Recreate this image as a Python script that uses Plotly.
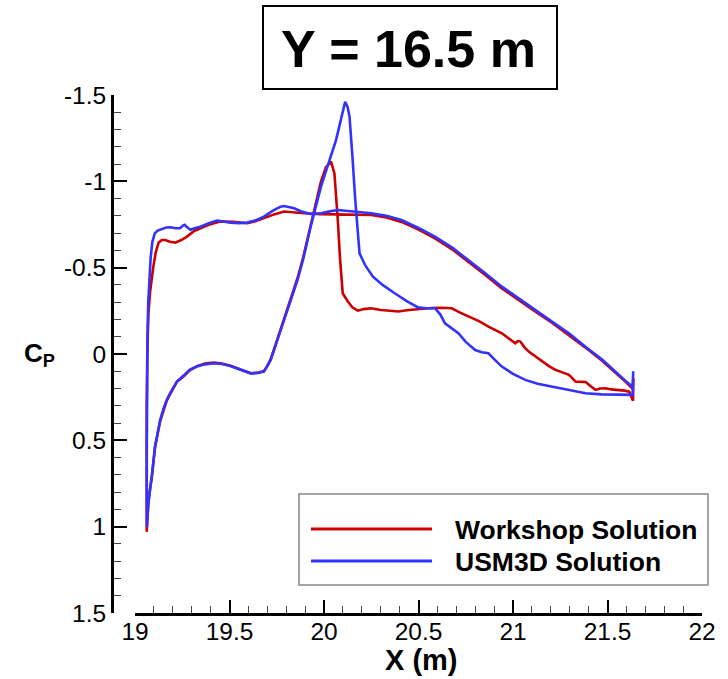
import numpy as np
import plotly.graph_objects as go

# ---------------- data ----------------
# USM3D Solution (blue) : upper branch from leading edge to trailing edge (last point = TE spike)
usm_upper_x = [19.063, 19.062, 19.063, 19.066, 19.070, 19.076, 19.083, 19.092, 19.105, 19.12,
               19.14, 19.165, 19.19, 19.215, 19.239, 19.255, 19.263, 19.275, 19.293, 19.32,
               19.346, 19.39, 19.434, 19.47, 19.505, 19.55, 19.594, 19.64, 19.682, 19.73,
               19.77, 19.789, 19.815, 19.842, 19.88, 19.93, 19.984, 20.03, 20.073, 20.12,
               20.161, 20.21, 20.25, 20.33, 20.41, 20.50, 20.587, 20.68, 20.764, 20.85,
               20.941, 21.03, 21.119, 21.21, 21.296, 21.38, 21.473, 21.55, 21.60, 21.633, 21.636]
usm_upper_cp = [1.0, 0.6, 0.2, -0.1, -0.3, -0.43, -0.56, -0.65, -0.70, -0.715,
                -0.725, -0.733, -0.734, -0.728, -0.728, -0.745, -0.748, -0.735, -0.72, -0.73,
                -0.737, -0.757, -0.773, -0.768, -0.761, -0.758, -0.761, -0.775, -0.796, -0.83,
                -0.853, -0.857, -0.852, -0.844, -0.825, -0.811, -0.815, -0.826, -0.834, -0.832,
                -0.825, -0.82, -0.815, -0.80, -0.776, -0.73, -0.68, -0.615, -0.545, -0.47,
                -0.39, -0.32, -0.255, -0.185, -0.12, -0.045, 0.034, 0.11, 0.16, 0.19, 0.10]
# USM3D Solution (blue) : lower branch from leading edge to trailing edge
usm_lower_x = [19.063, 19.066, 19.071, 19.08, 19.089, 19.106, 19.12, 19.133, 19.15, 19.168,
               19.186, 19.222, 19.257, 19.29, 19.328, 19.37, 19.416, 19.46, 19.505, 19.56,
               19.612, 19.65, 19.682, 19.70, 19.718, 19.75, 19.789, 19.82, 19.86, 19.89,
               19.93, 19.984, 20.03, 20.064, 20.09, 20.112, 20.125, 20.135, 20.15, 20.165,
               20.188, 20.22, 20.259, 20.31, 20.374, 20.44, 20.498, 20.54, 20.587, 20.615,
               20.64, 20.675, 20.711, 20.75, 20.8, 20.835, 20.87, 20.9, 20.941, 21.0,
               21.065, 21.13, 21.207, 21.3, 21.384, 21.47, 21.562, 21.633]
usm_lower_cp = [1.0, 0.95, 0.864, 0.78, 0.71, 0.536, 0.45, 0.382, 0.32, 0.266,
                0.227, 0.16, 0.125, 0.09, 0.073, 0.06, 0.054, 0.058, 0.069, 0.09,
                0.112, 0.11, 0.102, 0.07, 0.034, -0.07, -0.197, -0.30, -0.429, -0.55,
                -0.74, -0.969, -1.12, -1.24, -1.36, -1.461, -1.43, -1.374, -1.15, -0.9,
                -0.583, -0.51, -0.448, -0.40, -0.352, -0.305, -0.27, -0.265, -0.265, -0.23,
                -0.178, -0.15, -0.12, -0.07, -0.023, -0.01, -0.004, 0.03, 0.073, 0.115,
                0.15, 0.172, 0.189, 0.21, 0.227, 0.234, 0.237, 0.237]

# Workshop Solution (red) : upper branch
ws_upper_x = [19.062, 19.06, 19.062, 19.065, 19.071, 19.08, 19.09, 19.097, 19.11, 19.125,
              19.142, 19.16, 19.185, 19.213, 19.245, 19.275, 19.31, 19.346, 19.40, 19.45,
              19.52, 19.594, 19.64, 19.682, 19.74, 19.789, 19.84, 19.895, 19.98, 20.073,
              20.16, 20.25, 20.33, 20.41, 20.50, 20.587, 20.68, 20.764, 20.85, 20.941,
              21.03, 21.119, 21.21, 21.296, 21.38, 21.473, 21.55, 21.60, 21.632, 21.637]
ws_upper_cp = [1.03, 0.7, 0.3, 0.0, -0.238, -0.36, -0.45, -0.506, -0.59, -0.645,
               -0.66, -0.66, -0.65, -0.645, -0.66, -0.68, -0.71, -0.728, -0.752, -0.767,
               -0.765, -0.757, -0.77, -0.786, -0.81, -0.825, -0.822, -0.815, -0.81, -0.805,
               -0.806, -0.805, -0.79, -0.765, -0.72, -0.67, -0.605, -0.535, -0.46, -0.38,
               -0.31, -0.245, -0.178, -0.11, -0.04, 0.04, 0.115, 0.165, 0.20, 0.14]
# Workshop Solution (red) : lower branch
ws_lower_x = [19.062, 19.065, 19.07, 19.09, 19.106, 19.133, 19.168, 19.186, 19.222, 19.257,
              19.29, 19.328, 19.37, 19.416, 19.46, 19.505, 19.56, 19.612, 19.65, 19.682,
              19.70, 19.718, 19.75, 19.789, 19.82, 19.86, 19.89, 19.93, 19.984, 20.01,
              20.037, 20.055, 20.065, 20.073, 20.085, 20.099, 20.126, 20.15, 20.179, 20.21,
              20.25, 20.30, 20.35, 20.392, 20.45, 20.516, 20.569, 20.62, 20.676, 20.72,
              20.764, 20.82, 20.87, 20.941, 21.012, 21.025, 21.039, 21.06, 21.083, 21.12,
              21.154, 21.19, 21.225, 21.26, 21.296, 21.332, 21.36, 21.384, 21.41, 21.437,
              21.46, 21.49, 21.52, 21.562, 21.59, 21.615, 21.635]
ws_lower_cp = [1.03, 0.95, 0.864, 0.70, 0.54, 0.39, 0.27, 0.232, 0.16, 0.13,
               0.095, 0.07, 0.055, 0.05, 0.055, 0.068, 0.09, 0.112, 0.108, 0.098,
               0.07, 0.03, -0.075, -0.2, -0.31, -0.44, -0.56, -0.75, -1.0, -1.08,
               -1.114, -1.047, -0.92, -0.776, -0.55, -0.352, -0.304, -0.27, -0.251, -0.26,
               -0.265, -0.255, -0.25, -0.246, -0.255, -0.262, -0.266, -0.268, -0.265, -0.24,
               -0.217, -0.19, -0.159, -0.12, -0.062, -0.075, -0.072, -0.04, -0.014, 0.015,
               0.044, 0.07, 0.092, 0.105, 0.121, 0.16, 0.16, 0.162, 0.185, 0.208,
               0.2, 0.198, 0.205, 0.208, 0.212, 0.218, 0.27]

series_names = ["Workshop Solution", "USM3D Solution"]
series_colors = ["#cc0000", "#3333ff"]

x_ticks = [19, 19.5, 20, 20.5, 21, 21.5, 22]
x_ticktext = ["19", "19.5", "20", "20.5", "21", "21.5", "22"]
y_ticks = [-1.5, -1, -0.5, 0, 0.5, 1, 1.5]
y_ticktext = ["-1.5", "-1", "-0.5", "0", "0.5", "1", "1.5"]

FONT = "Liberation Sans, Arial, Helvetica, sans-serif"

# ---------------- figure ----------------
fig = go.Figure()
loops = [
    (ws_lower_x + ws_upper_x[::-1], ws_lower_cp + ws_upper_cp[::-1]),
    (usm_lower_x + usm_upper_x[::-1], usm_lower_cp + usm_upper_cp[::-1]),
]
for (lx, ly), name, col in zip(loops, series_names, series_colors):
    fig.add_trace(go.Scatter(x=lx, y=ly, mode="lines", name=name,
                             line=dict(color=col, width=2.6), showlegend=False))

W, H = 728, 679
# pixel frame of the plotting area
SX0, SX1, SY0, SY1 = 112, 702, 95, 613
L, R, T, B = SX0, W - SX1, SY0, H - SY1
pw = SX1 - SX0
ph = SY1 - SY0

def px(xs):
    return (xs - SX0) / pw

def py(ys):
    return (SY1 - ys) / ph

fig.update_layout(
    width=W, height=H,
    margin=dict(l=L, r=R, t=T, b=B, autoexpand=False),
    paper_bgcolor="white", plot_bgcolor="white",
    font=dict(family=FONT, color="black"),
    showlegend=False,
    xaxis=dict(
        domain=[23 / pw, 1], range=[19, 22], anchor="y", automargin=False,
        showline=True, linecolor="black", linewidth=3,
        ticks="inside", ticklen=13, tickwidth=2, tickcolor="black",
        tickmode="array", tickvals=x_ticks, ticktext=x_ticktext,
        tickfont=dict(size=24.5, family=FONT), ticklabelstandoff=-5,
        minor=dict(ticks="inside", ticklen=7, tickwidth=1, tickcolor="#444",
                   tickmode="array", tickvals=list(np.round(np.arange(19.1, 22, 0.1), 2))),
        showgrid=False, zeroline=False,
    ),
    yaxis=dict(
        range=[1.5, -1.5], anchor="free", position=0, automargin=False,
        showline=True, linecolor="black", linewidth=3,
        ticks="inside", ticklen=13, tickwidth=2, tickcolor="black",
        tickmode="array", tickvals=y_ticks, ticktext=y_ticktext,
        tickfont=dict(size=24.5, family=FONT),
        minor=dict(ticks="inside", ticklen=7, tickwidth=1, tickcolor="#444",
                   tickmode="array", tickvals=list(np.round(np.arange(-1.4, 1.5, 0.1), 2))),
        showgrid=False, zeroline=False,
    ),
)

shapes = [
    # title box
    dict(type="rect", xref="paper", yref="paper", x0=px(263), x1=px(557), y0=py(89), y1=py(6),
         line=dict(color="black", width=2), fillcolor="white"),
    # legend box
    dict(type="rect", xref="paper", yref="paper", x0=px(299), x1=px(708), y0=py(585), y1=py(494),
         line=dict(color="#888888", width=1.5), fillcolor="white", layer="above"),
]
leg_y = [529, 561]
for col, yy in zip(series_colors, leg_y):
    shapes.append(dict(type="line", xref="paper", yref="paper", x0=px(311), x1=px(432),
                       y0=py(yy), y1=py(yy), line=dict(color=col, width=3), layer="above"))
fig.update_layout(shapes=shapes)

annotations = [
    dict(text="<b>Y = 16.5 m</b>", xref="paper", yref="paper", x=px(408), y=py(49),
         xanchor="center", yanchor="middle", showarrow=False, font=dict(size=52, family=FONT)),
    dict(text="<b>C<sub>P</sub></b>", xref="paper", yref="paper", x=px(22), y=py(354),
         xanchor="left", yanchor="middle", showarrow=False, font=dict(size=26, family=FONT)),
    dict(text="<b>X (m)</b>", xref="paper", yref="paper", x=px(421), y=py(660),
         xanchor="center", yanchor="middle", showarrow=False, font=dict(size=29, family=FONT)),
]
for name, yy in zip(series_names, leg_y):
    annotations.append(dict(text="<b>%s</b>" % name, xref="paper", yref="paper", x=px(453), y=py(yy + 1),
                            xanchor="left", yanchor="middle", showarrow=False,
                            font=dict(size=26.5, family=FONT)))
fig.update_layout(annotations=annotations)

# remove the browser's default 8 px body margin so the figure sits at the page origin
fig.write_html("out.html", config={"displayModeBar": False},
               post_script="document.body.style.margin='0';")
